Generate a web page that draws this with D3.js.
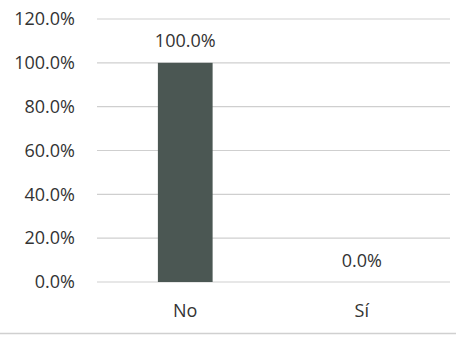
<!DOCTYPE html>
<html><head><meta charset="utf-8">
<script src="https://cdn.jsdelivr.net/npm/d3@7"></script>
<style>body{margin:0;background:#fff}svg{display:block}text{font-family:"Open Sans","Liberation Sans",sans-serif;fill:#333}</style>
</head><body>
<script>
const categories = ["No", "Sí"];
const values = [1.0, 0.0];
const tickValues = [0, 0.2, 0.4, 0.6, 0.8, 1.0, 1.2];

const W = 456, H = 339;
const margin = {left: 97, right: 6, top: 19, bottom: 57};
const svg = d3.select("body").append("svg").attr("width", W).attr("height", H);

const x = d3.scaleBand().domain(categories).range([margin.left, W - margin.right]).paddingInner(0.69).paddingOuter(0.345);
const y = d3.scaleLinear().domain([0, 1.2]).range([H - margin.bottom, margin.top]);
const fmt = d3.format(".1%");
const FS = 18;

// gridlines
svg.append("g").selectAll("line").data(tickValues).join("line")
  .attr("x1", margin.left).attr("x2", W - margin.right)
  .attr("y1", d => y(d)).attr("y2", d => y(d))
  .attr("stroke", "#cfcfcf").attr("stroke-width", 1.2);

// y axis
const yAxis = svg.append("g").attr("transform", `translate(${margin.left},0)`)
  .call(d3.axisLeft(y).tickValues(tickValues).tickFormat(fmt).tickSize(0).tickPadding(22));
yAxis.select(".domain").remove();
yAxis.selectAll("text").attr("font-size", FS).attr("fill", "#333").attr("font-family", '"Open Sans", sans-serif');

// bars
svg.append("g").selectAll("rect").data(values).join("rect")
  .attr("x", (d, i) => x(categories[i])).attr("width", x.bandwidth())
  .attr("y", d => y(d)).attr("height", d => y(0) - y(d))
  .attr("fill", "#4b5753");

// value labels
svg.append("g").selectAll("text").data(values).join("text")
  .attr("x", (d, i) => x(categories[i]) + x.bandwidth() / 2)
  .attr("y", d => y(d) - 15.5)
  .attr("text-anchor", "middle").attr("font-size", FS)
  .text(d => fmt(d));

// x axis
const xAxis = svg.append("g").attr("transform", `translate(0,${y(0)})`)
  .call(d3.axisBottom(x).tickSize(0).tickPadding(22));
xAxis.select(".domain").remove();
xAxis.selectAll("text").attr("font-size", FS).attr("fill", "#333").attr("font-family", '"Open Sans", sans-serif');

// bottom border
svg.append("line").attr("x1", 0).attr("x2", W).attr("y1", 333.5).attr("y2", 333.5)
  .attr("stroke", "#d0d0d0").attr("stroke-width", 1.5);
</script>
</body></html>
